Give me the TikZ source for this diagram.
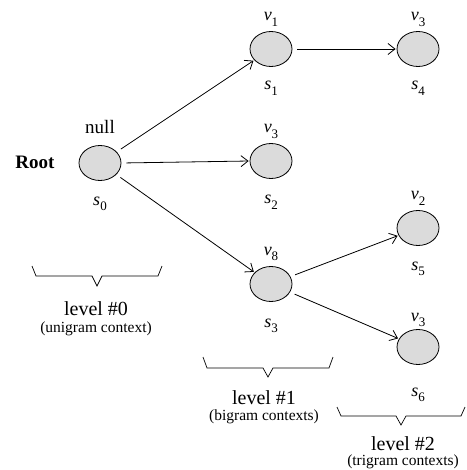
\documentclass[tikz,border=0pt]{standalone}
\usepackage{fontspec}
\setmainfont{Liberation Serif}
\usetikzlibrary{shapes.geometric,arrows.meta}
\newcommand\lab[2]{\textit{#1}\raisebox{-0.3em}{\fontsize{13}{14}\selectfont #2}}
\begin{document}
\begin{tikzpicture}[x=1pt,y=-1pt,
  state/.style={ellipse,draw,line width=0.8pt,fill=black!14,minimum width=42pt,minimum height=35pt,inner sep=0pt},
  lbl/.style={font=\fontsize{18}{20}\selectfont,anchor=base,inner sep=0pt},
  conn/.style={-{Straight Barb[length=7pt,width=11pt]},line width=0.8pt,shorten <=5pt,shorten >=1pt},
  brace/.style={line width=0.7pt},
  lvl/.style={font=\fontsize{20}{22}\selectfont,anchor=base,inner sep=0pt},
  sub/.style={font=\fontsize{15.5}{17}\selectfont,anchor=base,inner sep=0pt}]
\useasboundingbox (0,0) rectangle (466,470);
% nodes
\node[state] (s0) at (100,163) {};
\node[state] (s1) at (271,49) {};
\node[state] (s4) at (418,49) {};
\node[state] (s2) at (271,161) {};
\node[state] (s3) at (271,284) {};
\node[state] (s5) at (418,228) {};
\node[state] (s6) at (418,347) {};
% labels
\node[lbl,font=\fontsize{19}{21}\selectfont] (tnull) at (100,134) {null};
\node[lbl,font=\fontsize{19}{21}\selectfont\bfseries] (troot) at (35,168) {Root};
\node[lbl] (ls0) at (100,205) {\lab{s}{0}};
\node[lbl] (lv1) at (271,21) {\lab{v}{1}};
\node[lbl] (ls1) at (271,90) {\lab{s}{1}};
\node[lbl] (lv3a) at (418,21) {\lab{v}{3}};
\node[lbl] (ls4) at (418,90) {\lab{s}{4}};
\node[lbl] (lv3b) at (271,133) {\lab{v}{3}};
\node[lbl] (ls2) at (271,204) {\lab{s}{2}};
\node[lbl] (lv8) at (271,255) {\lab{v}{8}};
\node[lbl] (ls3) at (271,327) {\lab{s}{3}};
\node[lbl] (lv2) at (418,200) {\lab{v}{2}};
\node[lbl] (ls5) at (418,270) {\lab{s}{5}};
\node[lbl] (lv3c) at (418,321) {\lab{v}{3}};
\node[lbl] (ls6) at (418,396) {\lab{s}{6}};
% connectors
\draw[conn] (s0) -- (s1);
\draw[conn] (s0.east) -- (s2.west);
\draw[conn] (s0) -- (s3);
\draw[conn] (s1.east) -- (s4.west);
\draw[conn] (s3) -- (s5);
\draw[conn] (s3) -- (s6);
% braces
\draw[brace] (32,266) -- (36,276) -- (92,276) -- (97,286) -- (102,276) -- (158,276) -- (162,266);
\node[lvl] (l0) at (96,315) {level \#0};
\node[sub] (l0s) at (96,332) {(unigram context)};
\draw[brace] (203,357) -- (207,368) -- (263,368) -- (268,377) -- (273,368) -- (329,368) -- (333,357);
\node[lvl] (l1) at (264,404) {level \#1};
\node[sub] (l1s) at (264,420) {(bigram contexts)};
\draw[brace] (337,407) -- (341,416) -- (396,416) -- (401,425) -- (406,416) -- (461,416) -- (465,407);
\node[lvl] (l2) at (403,450) {level \#2};
\node[sub] (l2s) at (403,465) {(trigram contexts)};
\end{tikzpicture}
\end{document}
